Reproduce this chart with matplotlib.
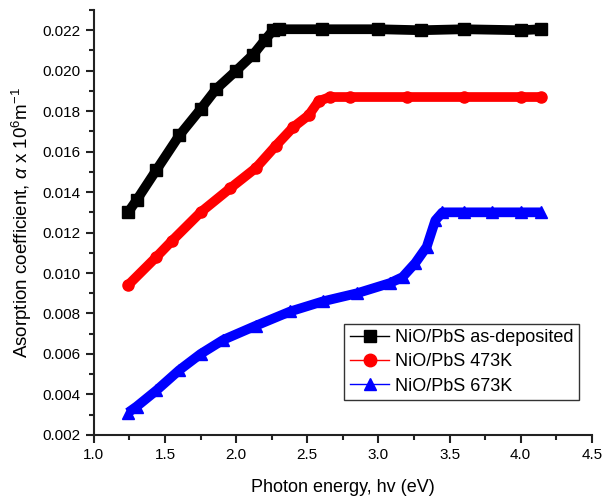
import matplotlib
matplotlib.use("Agg")
import matplotlib.pyplot as plt
from matplotlib.lines import Line2D
from matplotlib.ticker import MultipleLocator

plt.rcParams['font.family'] = ['Liberation Sans', 'DejaVu Sans']
plt.rcParams['mathtext.fontset'] = 'custom'
plt.rcParams['mathtext.rm'] = 'Liberation Sans'
plt.rcParams['mathtext.it'] = 'Liberation Sans:italic'

# values
labels = ["NiO/PbS as-deposited", "NiO/PbS 473K", "NiO/PbS 673K"]

black_x = [1.24, 1.30, 1.44, 1.60, 1.75, 1.86, 2.00, 2.12, 2.20, 2.26, 2.30, 2.60, 3.00, 3.30, 3.60, 4.00, 4.14]
black_y = [0.0130, 0.0136, 0.0151, 0.0168, 0.0181, 0.0191, 0.0200, 0.0208, 0.0215, 0.0220, 0.02205, 0.02205,
           0.02205, 0.02200, 0.02205, 0.02200, 0.02205]

red_x = [1.24, 1.44, 1.55, 1.75, 1.96, 2.14, 2.28, 2.40, 2.51, 2.58, 2.66, 2.80, 3.20, 3.60, 4.00, 4.14]
red_y = [0.0094, 0.0108, 0.0116, 0.0130, 0.0142, 0.0152, 0.0163, 0.0172, 0.0178, 0.0185, 0.0187, 0.0187,
         0.0187, 0.0187, 0.0187, 0.0187]

blue_x = [1.24, 1.30, 1.44, 1.60, 1.75, 1.91, 2.14, 2.38, 2.61, 2.85, 3.08, 3.17, 3.26, 3.34, 3.40, 3.45,
          3.60, 3.80, 4.00, 4.14]
blue_y = [0.0031, 0.0034, 0.0042, 0.0052, 0.0060, 0.0067, 0.0074, 0.0081, 0.0086, 0.0090, 0.0095, 0.0098,
          0.0105, 0.0113, 0.0126, 0.0130, 0.0130, 0.0130, 0.0130, 0.0130]

series = [(black_x, black_y, "black", "s"), (red_x, red_y, "red", "o"), (blue_x, blue_y, "blue", "^")]

fig = plt.figure(figsize=(6.02, 5.01), dpi=100)
ax = fig.add_axes([0.156, 0.132, 0.827, 0.848])

for x, y, c, m in series:
    # the original has hundreds of overlapping markers, so a thick band is drawn
    ax.plot(x, y, color=c, lw=7, solid_capstyle="butt", solid_joinstyle="round")
    ax.plot(x, y, color=c, ls="none", marker=m, ms=8)

ax.set_xlim(1.0, 4.5)
ax.set_ylim(0.002, 0.023)
ax.xaxis.set_major_locator(MultipleLocator(0.5))
ax.xaxis.set_minor_locator(MultipleLocator(0.25))
ax.yaxis.set_major_locator(MultipleLocator(0.002))
ax.yaxis.set_minor_locator(MultipleLocator(0.001))
ax.yaxis.set_major_formatter(matplotlib.ticker.FormatStrFormatter("%.3f"))
ax.xaxis.set_major_formatter(matplotlib.ticker.FormatStrFormatter("%.1f"))

ax.spines["top"].set_visible(False)
ax.spines["right"].set_visible(False)
for s in ("left", "bottom"):
    ax.spines[s].set_linewidth(1.5)
    ax.spines[s].set_color("#222222")
ax.tick_params(which="major", direction="out", length=6, width=1.5, labelsize=11, color="#222222")
ax.tick_params(which="minor", direction="out", length=3.5, width=1.5, color="#222222")

ax.set_xlabel("Photon energy, hv (eV)", fontsize=13, labelpad=12)
ax.set_ylabel(r"Asorption coefficient, $\alpha$ x 10$^6$m$^{-1}$", fontsize=13.5, labelpad=6)

handles = [Line2D([], [], color=c, lw=1, marker=m, ms=9) for _, _, c, m in series]
leg = ax.legend(handles, labels, loc="lower right", bbox_to_anchor=(0.974, 0.082), borderaxespad=0,
                fontsize=13, frameon=True, fancybox=False, handlelength=2.2, handletextpad=0.3,
                labelspacing=0.4, borderpad=0.3)
leg.get_frame().set_edgecolor("black")
leg.get_frame().set_linewidth(1.0)

fig.savefig("out.png", dpi=100)
